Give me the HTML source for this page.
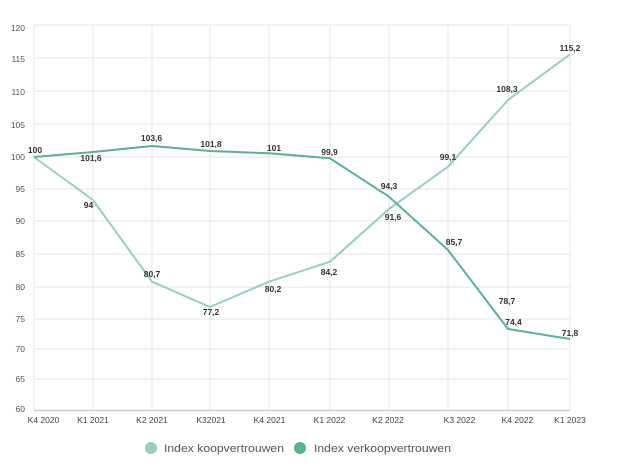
<!DOCTYPE html>
<html><head><meta charset="utf-8"><style>
html,body{margin:0;padding:0;background:#fff;}
svg{display:block;font-family:"Liberation Sans",sans-serif;}
.yl{font-size:8.5px;fill:#555;text-anchor:end;}
.xl{font-size:8.5px;fill:#444;text-anchor:middle;}
.dl{font-size:8.5px;fill:#333;font-weight:bold;text-anchor:middle;}
</style></head><body>
<svg width="618" height="471" viewBox="0 0 618 471" xmlns="http://www.w3.org/2000/svg">
<rect width="618" height="471" fill="#fff"/>
<g stroke="#e4e4e4" stroke-width="1">
<line x1="34" y1="25" x2="570" y2="25"/>
<line x1="34" y1="58" x2="570" y2="58"/>
<line x1="34" y1="91" x2="570" y2="91"/>
<line x1="34" y1="124" x2="570" y2="124"/>
<line x1="34" y1="157" x2="570" y2="157"/>
<line x1="34" y1="189" x2="570" y2="189"/>
<line x1="34" y1="221" x2="570" y2="221"/>
<line x1="34" y1="254" x2="570" y2="254"/>
<line x1="34" y1="287" x2="570" y2="287"/>
<line x1="34" y1="319" x2="570" y2="319"/>
<line x1="34" y1="349" x2="570" y2="349"/>
<line x1="34" y1="379" x2="570" y2="379"/>
<line x1="34" y1="25" x2="34" y2="410"/>
<line x1="93" y1="25" x2="93" y2="410"/>
<line x1="152" y1="25" x2="152" y2="410"/>
<line x1="210" y1="25" x2="210" y2="410"/>
<line x1="269" y1="25" x2="269" y2="410"/>
<line x1="330" y1="25" x2="330" y2="410"/>
<line x1="389" y1="25" x2="389" y2="410"/>
<line x1="448" y1="25" x2="448" y2="410"/>
<line x1="508" y1="25" x2="508" y2="410"/>
<line x1="570" y1="25" x2="570" y2="410"/>
</g>
<line x1="34" y1="410.5" x2="570" y2="410.5" stroke="#cfcfcf" stroke-width="1.5"/>
<g class="yl">
<text x="25" y="31">120</text>
<text x="25" y="62">115</text>
<text x="25" y="95">110</text>
<text x="25" y="128">105</text>
<text x="25" y="160">100</text>
<text x="25" y="192">95</text>
<text x="25" y="224">90</text>
<text x="25" y="257">85</text>
<text x="25" y="290">80</text>
<text x="25" y="322">75</text>
<text x="25" y="352">70</text>
<text x="25" y="382">65</text>
<text x="25" y="412">60</text>
</g>
<g class="xl">
<text x="43.5" y="423">K4 2020</text>
<text x="93" y="423">K1 2021</text>
<text x="152" y="423">K2 2021</text>
<text x="211" y="423">K32021</text>
<text x="269.5" y="423">K4 2021</text>
<text x="329.5" y="423">K1 2022</text>
<text x="388" y="423">K2 2022</text>
<text x="459.5" y="423">K3 2022</text>
<text x="517.5" y="423">K4 2022</text>
<text x="570" y="423">K1 2023</text>
</g>
<polyline fill="none" stroke="#97d0b8" stroke-width="2" stroke-linejoin="round" points="34,157 93,200 152,281.7 210,307 269,281.7 330,261.7 389,209 448,166.7 508,100 570,54.3"/>
<polyline fill="none" stroke="#5bb38c" stroke-width="2" stroke-linejoin="round" points="34,157 93,152 152,146 210,151 269,153.3 330,158.3 389,196.7 448,250 508,329 570,339"/>
<g class="dl">
<text x="35" y="153">100</text>
<text x="91" y="161">101,6</text>
<text x="151.5" y="141">103,6</text>
<text x="211" y="147">101,8</text>
<text x="274" y="151">101</text>
<text x="88.5" y="208">94</text>
<text x="329.5" y="155">99,9</text>
<text x="389" y="189">94,3</text>
<text x="393" y="220">91,6</text>
<text x="448" y="160">99,1</text>
<text x="507" y="92">108,3</text>
<text x="570" y="51">115,2</text>
<text x="152" y="277">80,7</text>
<text x="211" y="315">77,2</text>
<text x="273" y="292">80,2</text>
<text x="329" y="275">84,2</text>
<text x="454" y="245">85,7</text>
<text x="507" y="304">78,7</text>
<text x="513.5" y="325">74,4</text>
<text x="570" y="336">71,8</text>
</g>
<circle cx="151" cy="448" r="6" fill="#97d0b8"/>
<text x="164" y="452" font-size="11" fill="#555" textLength="120" lengthAdjust="spacingAndGlyphs">Index koopvertrouwen</text>
<circle cx="300" cy="448" r="6" fill="#5bb38c"/>
<text x="314" y="452" font-size="11" fill="#555" textLength="137" lengthAdjust="spacingAndGlyphs">Index verkoopvertrouwen</text>
</svg>
</body></html>
